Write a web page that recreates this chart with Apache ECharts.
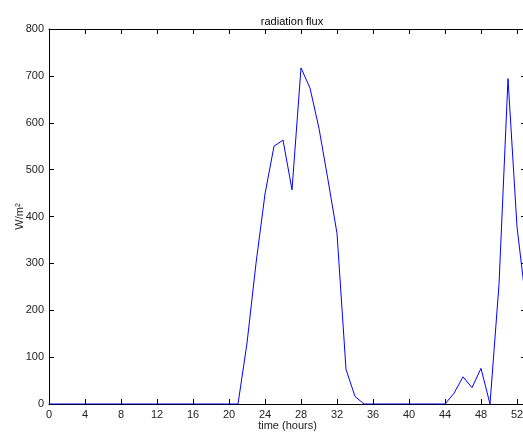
<!DOCTYPE html>
<html>
<head>
<meta charset="utf-8">
<script src="https://cdn.jsdelivr.net/npm/echarts@6/dist/echarts.min.js"></script>
<style>
  html, body { margin: 0; padding: 0; background: #fff; }
  #chart { width: 523px; height: 432px; }
</style>
</head>
<body>
<div id="chart"></div>
<script>
// Hourly radiation flux samples (W/m^2)
const hours = [
  0, 1, 2, 3, 4, 5, 6, 7, 8, 9, 10, 11, 12, 13, 14, 15, 16, 17, 18, 19, 20,
  21, 22, 23, 24, 25, 26, 27, 28, 29, 30, 31, 32, 33, 34, 35, 36, 37, 38, 39,
  40, 41, 42, 43, 44, 45, 46, 47, 48, 49, 50, 51, 52, 53
];
const flux = [
  0, 0, 0, 0, 0, 0, 0, 0, 0, 0, 0, 0, 0, 0, 0, 0, 0, 0, 0, 0, 0,
  0, 130, 300, 448, 550, 563, 457, 717, 674, 588, 478, 364, 74, 16, 0, 0, 0, 0, 0,
  0, 0, 0, 0, 0, 23, 58, 35, 76, 0, 255, 694, 378, 215
];
const xTicks = [0, 4, 8, 12, 16, 20, 24, 28, 32, 36, 40, 44, 48, 52];
const yTicks = [0, 100, 200, 300, 400, 500, 600, 700, 800];

const FONT = '"Liberation Sans", Arial, Helvetica, sans-serif';
const points = hours.map((h, i) => [h, flux[i]]);

const line = { show: true, onZero: false, lineStyle: { color: '#000', width: 1 } };
const tickIn = { show: true, inside: true, length: 5, lineStyle: { color: '#000', width: 1 } };
const label = { color: '#222', fontSize: 11, fontFamily: FONT };

const chart = echarts.init(document.getElementById('chart'), null, { renderer: 'canvas' });
chart.setOption({
  animation: false,
  backgroundColor: '#fff',
  title: {
    text: 'radiation flux',
    left: 287, top: 11, textAlign: 'center',
    textStyle: { fontSize: 11, fontWeight: 'normal', color: '#000', fontFamily: FONT }
  },
  grid: {
    left: 49, top: 29, right: -3, bottom: 28,
    containLabel: false, outerBoundsMode: 'none'
  },
  xAxis: [
    {
      type: 'value', position: 'bottom', min: 0, max: 53, interval: 4,
      name: 'time (hours)', nameLocation: 'middle', nameGap: 16, nameMoveOverlap: false,
      nameTextStyle: { fontSize: 11, color: '#222', fontFamily: FONT },
      axisLine: line, axisTick: tickIn, splitLine: { show: false },
      axisLabel: Object.assign({}, label, {
        margin: 5,
        formatter: v => (xTicks.includes(v) ? String(v) : '')
      })
    },
    {
      type: 'value', position: 'top', min: 0, max: 53, interval: 4,
      axisLine: line, axisTick: tickIn, splitLine: { show: false },
      axisLabel: { show: false }
    }
  ],
  yAxis: [
    {
      type: 'value', position: 'left', min: 0, max: 800, interval: 100,
      name: 'W/m²', nameLocation: 'middle', nameGap: 24, nameRotate: 90, nameMoveOverlap: false,
      nameTextStyle: { fontSize: 11, color: '#222', fontFamily: FONT },
      axisLine: line, axisTick: tickIn, splitLine: { show: false },
      axisLabel: Object.assign({}, label, {
        margin: 5,
        formatter: v => (yTicks.includes(v) ? String(v) : '')
      })
    },
    {
      type: 'value', position: 'right', min: 0, max: 800, interval: 100,
      axisLine: line, axisTick: tickIn, splitLine: { show: false },
      axisLabel: { show: false }
    }
  ],
  series: [{
    type: 'line',
    data: points,
    xAxisIndex: 0, yAxisIndex: 0,
    showSymbol: false,
    lineStyle: { color: '#0000ff', width: 1 },
    z: 1
  }]
});
</script>
</body>
</html>
